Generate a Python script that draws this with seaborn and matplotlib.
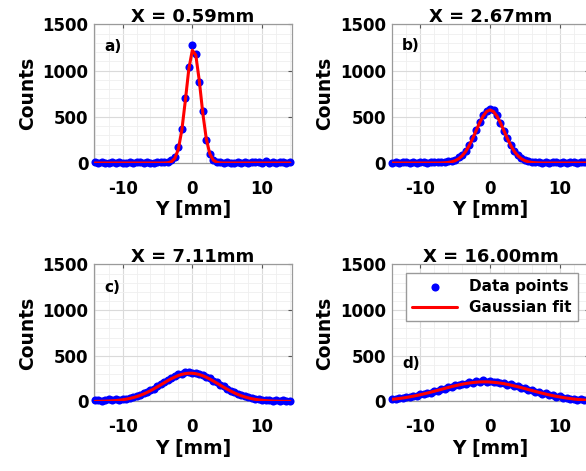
import matplotlib
matplotlib.use('Agg')
import pandas as pd
import matplotlib.pyplot as plt
import seaborn as sns
from matplotlib.ticker import MultipleLocator

# Positions along Y [mm] where the profiles were sampled
y_mm = [-14.0, -13.5, -13.0, -12.5, -12.0, -11.5, -11.0, -10.5, -10.0, -9.5,
        -9.0, -8.5, -8.0, -7.5, -7.0, -6.5, -6.0, -5.5, -5.0, -4.5,
        -4.0, -3.5, -3.0, -2.5, -2.0, -1.5, -1.0, -0.5, 0.0, 0.5,
        1.0, 1.5, 2.0, 2.5, 3.0, 3.5, 4.0, 4.5, 5.0, 5.5,
        6.0, 6.5, 7.0, 7.5, 8.0, 8.5, 9.0, 9.5, 10.0, 10.5,
        11.0, 11.5, 12.0, 12.5, 13.0, 13.5, 14.0]

# a) X = 0.59mm
counts_a = [6, 2, 9, 4, 0, 7, 3, 11, 5, 2, 8, 4, 14, 6, 3, 9, 5, 2, 10, 7,
            9, 15, 28, 62, 178, 372, 705, 1035, 1278, 1185, 875, 560, 248, 98, 38, 14, 6,
            3, 8, 1, 5, 12, 4, 7, 2, 9, 15, 6, 3, 18, 5, 8, 2, 6, 10, 4, 7]
fit_a = [0, 0, 0, 0, 0, 0, 0, 0, 0, 0, 0, 0, 0, 0, 0, 0, 0, 0, 0, 0,
         0.5, 3, 14, 51, 152, 359, 678, 1020, 1222, 1168, 890, 540, 262, 101, 31, 8, 1.5,
         0, 0, 0, 0, 0, 0, 0, 0, 0, 0, 0, 0, 0, 0, 0, 0, 0, 0, 0, 0]

# b) X = 2.67mm
counts_b = [4, 9, 2, 6, 11, 3, 7, 5, 13, 8, 4, 10, 6, 12,
            10, 14, 18, 26, 38, 62, 92, 135, 195, 270, 355, 440, 520, 565, 590,
            570, 515, 430, 345, 268, 190, 128, 84, 52, 32, 20, 14, 9, 11,
            5, 8, 3, 12, 6, 2, 9, 4, 7, 10, 3, 6, 8, 5]
fit_b = [0, 0, 0, 0, 0, 0, 0, 0, 0, 0, 0, 0, 0, 0,
         1.3, 2.9, 6.4, 13, 25, 46, 78, 124, 187, 263, 349, 434, 507, 557, 575,
         557, 507, 434, 349, 263, 187, 124, 78, 46, 25, 13, 6.4, 2.9, 1.3,
         0, 0, 0, 0, 0, 0, 0, 0, 0, 0, 0, 0, 0, 0]

# c) X = 7.11mm
counts_c = [12, 18, 9, 15, 22, 14, 26, 20, 31, 28, 42, 48, 61, 72, 90, 104, 126, 142, 170, 188,
            215, 232, 262, 275, 296, 302, 318, 322, 315, 312, 300, 290, 268, 254, 228, 210, 183,
            165, 140, 120, 102, 84, 70, 58, 45, 38, 30, 24, 20, 15, 18, 10, 14, 7, 11, 5, 9]
fit_c = [1.2, 1.7, 2.5, 3.7, 5.3, 7.4, 10.3, 14, 18.8, 25, 32.6, 42, 53, 66, 81.5, 99, 118, 139, 161, 183,
         206, 229, 250, 268, 284.5, 297, 305.5, 309.6, 309, 304, 295, 281.5, 265, 245.5, 224, 202, 179,
         156, 134, 114, 95, 78, 63.5, 50.7, 39.9, 30.9, 23.6, 17.8, 13.2, 9.6, 6.9, 4.9, 3.4, 2.4, 1.6, 1.1, 0.7]

# d) X = 16.00mm
counts_d = [30, 22, 38, 34, 52, 46, 65, 60, 80, 78, 98, 96, 118, 116, 140, 136, 160, 158, 178, 176,
            196, 192, 208, 204, 222, 212, 230, 218, 226, 212, 214, 198, 202, 184, 186, 166, 168,
            146, 148, 126, 128, 106, 108, 86, 88, 68, 70, 52, 56, 40, 42, 28, 32, 20, 24, 14, 18]
fit_d = [24, 28, 33, 38, 44, 51, 58, 66, 74, 83, 92, 102, 112, 122, 132, 143, 153, 163, 172, 181,
         189, 196, 202, 207, 211, 214, 215, 215, 213, 210, 206, 201, 195, 187, 179, 170, 161,
         151, 141, 130, 120, 110, 100, 90, 81, 72, 64, 56, 50, 43, 37, 32, 27, 23, 20, 16, 14]

titles = ['X = 0.59mm', 'X = 2.67mm', 'X = 7.11mm', 'X = 16.00mm']
tags = ['a)', 'b)', 'c)', 'd)']
tag_y = [1260, 1270, 1250, 418]
all_counts = [counts_a, counts_b, counts_c, counts_d]
all_fits = [fit_a, fit_b, fit_c, fit_d]

sns.set_style('white')
plt.rcParams['font.family'] = ['DejaVu Sans']
plt.rcParams['font.weight'] = 'bold'
plt.rcParams['axes.unicode_minus'] = False
plt.rcParams['text.color'] = 'black'
plt.rcParams['axes.labelcolor'] = 'black'
plt.rcParams['xtick.color'] = 'black'
plt.rcParams['ytick.color'] = 'black'

fig = plt.figure(figsize=(5.86, 4.71), dpi=100)
boxes = [[0.1604, 0.6539, 0.3374, 0.2941],
         [0.6684, 0.6539, 0.3374, 0.2941],
         [0.1604, 0.1476, 0.3374, 0.2909],
         [0.6684, 0.1476, 0.3374, 0.2909]]

for i in range(4):
    ax = fig.add_axes(boxes[i])
    df = pd.DataFrame({'Y': y_mm, 'Counts': all_counts[i], 'Fit': all_fits[i]})
    last = (i == 3)
    sns.scatterplot(data=df, x='Y', y='Counts', ax=ax, color='blue', s=34,
                    linewidth=0, clip_on=False, zorder=3,
                    label='Data points' if last else None, legend=last)
    sns.lineplot(data=df, x='Y', y='Fit', ax=ax, color='red', lw=2.2,
                 zorder=4, label='Gaussian fit' if last else None, legend=last)

    ax.set_xlim(-14.1, 14.25)
    ax.set_ylim(0, 1500)
    ax.set_xticks([-10, 0, 10])
    ax.set_yticks([0, 500, 1000, 1500])
    ax.xaxis.set_minor_locator(MultipleLocator(2))
    ax.yaxis.set_minor_locator(MultipleLocator(100))
    ax.grid(which='major', color='#dadada', lw=0.8)
    ax.grid(which='minor', color='#efefef', lw=0.6)
    ax.set_axisbelow(True)
    ax.tick_params(which='major', direction='in', length=3, top=True, right=True,
                   color='#555555', labelsize=12, labelcolor='black')
    ax.tick_params(which='minor', length=0)
    ax.tick_params(axis='x', pad=12)
    ax.tick_params(axis='y', pad=4)
    for lab in ax.get_xticklabels() + ax.get_yticklabels():
        lab.set_fontweight('bold')
    for sp in ax.spines.values():
        sp.set_color('#9a9a9a')
        sp.set_linewidth(0.9)

    ax.set_xlabel('Y [mm]', fontsize=13.5, fontweight='bold', labelpad=2, color='black')
    ax.set_ylabel('Counts', fontsize=13.5, fontweight='bold', labelpad=4, color='black')
    ax.set_title(titles[i], fontsize=13, fontweight='bold', pad=2, color='black')
    ax.text(-12.6, tag_y[i], tags[i], fontsize=11, fontweight='bold',
            ha='left', va='center', color='black')

    if last:
        leg = ax.legend(loc='upper right', bbox_to_anchor=(0.94, 0.94), borderaxespad=0,
                        fancybox=False, framealpha=1, edgecolor='#9a9a9a',
                        handlelength=2.9, labelspacing=0.4,
                        prop={'size': 11, 'weight': 'bold'})
        for t in leg.get_texts():
            t.set_color('black')

fig.savefig('out.png', dpi=100)
